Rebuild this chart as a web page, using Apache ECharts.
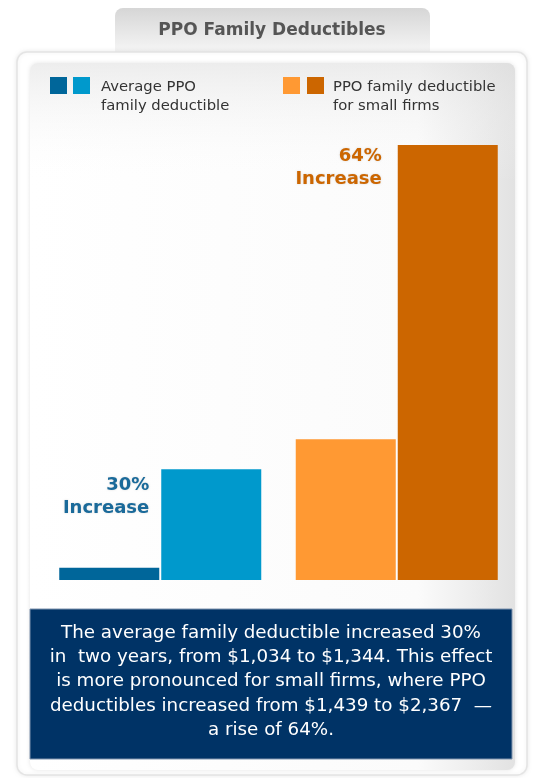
<!DOCTYPE html>
<html>
<head>
<meta charset="utf-8">
<script src="https://cdn.jsdelivr.net/npm/echarts@6/dist/echarts.min.js"></script>
<style>
html,body{margin:0;padding:0;background:#fff;}
#chart{width:534px;height:778px;}
</style>
</head>
<body>
<div id="chart"></div>
<script>
// Data
const groups = ['Average PPO family deductible', 'PPO family deductible for small firms'];
const legendNames = ['Average PPO\nfamily deductible', 'PPO family deductible\nfor small firms'];
const earlierValues = [1034, 1439];
const laterValues = [1344, 2367];
const increaseLabels = ['30%\nIncrease', '64%\nIncrease'];
const titleText = 'PPO Family Deductibles';
const noteText = 'The average family deductible increased 30%\nin  two years, from $1,034 to $1,344. This effect\nis more pronounced for small firms, where PPO\ndeductibles increased from $1,439 to $2,367  \u2014\na rise of 64%.';

const earlierColors = ['#00669a', '#ff9933'];
const laterColors = ['#0099cc', '#cc6600'];
const labelColors = ['#1a6a9a', '#cc6600'];
const labelOffsets = [[-12, 4], [-16, 0]];

const chart = echarts.init(document.getElementById('chart'), null, {renderer: 'canvas'});

const fam = '"DejaVu Sans", Verdana, sans-serif';

const option = {
  backgroundColor: '#ffffff',
  animation: false,
  graphic: [
    // title tab
    {type: 'rect', shape: {x: 115, y: 8, width: 315, height: 60, r: 8}, z: 0,
     style: {fill: new echarts.graphic.LinearGradient(0, 0, 0, 1, [{offset: 0, color: '#d6d6d6'}, {offset: 0.7, color: '#f4f4f4'}, {offset: 1, color: '#ffffff'}])}},
    {type: 'text', x: 272, y: 22, z: 2,
     style: {text: titleText, font: 'bold 17px ' + fam, fill: '#555555', align: 'center'}},
    // outer panel
    {type: 'rect', shape: {x: 17, y: 52, width: 510, height: 723, r: 10}, z: 1,
     style: {fill: '#ffffff', stroke: '#e4e4e4', lineWidth: 1.5, shadowBlur: 4, shadowColor: 'rgba(0,0,0,0.08)'}},
    // inner panel
    {type: 'rect', shape: {x: 30, y: 63, width: 485, height: 707, r: 8}, z: 1,
     style: {fill: new echarts.graphic.LinearGradient(0, 0, 1, 0, [{offset: 0, color: '#ffffff'}, {offset: 0.8, color: '#fbfbfb'}, {offset: 1, color: '#e2e2e2'}]),
             shadowBlur: 4, shadowColor: 'rgba(0,0,0,0.10)'}},
    {type: 'rect', shape: {x: 30, y: 63, width: 485, height: 120, r: [8, 8, 0, 0]}, z: 1,
     style: {fill: new echarts.graphic.LinearGradient(0, 0, 0, 1, [{offset: 0, color: 'rgba(220,220,220,0.5)'}, {offset: 1, color: 'rgba(255,255,255,0)'}])}},
    // legend squares
    {type: 'rect', shape: {x: 50, y: 77, width: 17, height: 17}, z: 3, style: {fill: earlierColors[0]}},
    {type: 'rect', shape: {x: 73, y: 77, width: 17, height: 17}, z: 3, style: {fill: laterColors[0]}},
    {type: 'rect', shape: {x: 283, y: 77, width: 17, height: 17}, z: 3, style: {fill: earlierColors[1]}},
    {type: 'rect', shape: {x: 307, y: 77, width: 17, height: 17}, z: 3, style: {fill: laterColors[1]}},
    {type: 'text', x: 101, y: 78, z: 3, style: {text: legendNames[0], font: '14.8px ' + fam, fill: '#333333', lineHeight: 19}},
    {type: 'text', x: 333, y: 78, z: 3, style: {text: legendNames[1], font: '14.8px ' + fam, fill: '#333333', lineHeight: 19}},
    // note box
    {type: 'rect', shape: {x: 30, y: 609, width: 482, height: 150}, z: 3, style: {fill: '#003366', stroke: '#7f93ad', lineWidth: 1}},
    {type: 'text', x: 271, y: 621, z: 4,
     style: {text: noteText, font: '18.3px ' + fam, fill: '#ffffff', lineHeight: 24.3, align: 'center'}}
  ],
  grid: {left: 42, right: 19, top: 145, bottom: 198, containLabel: false},
  xAxis: {type: 'category', data: groups, show: false},
  yAxis: {type: 'value', min: 995, max: 2367, show: false, splitLine: {show: false}},
  series: [
    {
      name: 'Earlier', type: 'bar', barWidth: 100, barGap: '2%', z: 5,
      data: earlierValues.map((v, i) => ({value: v, itemStyle: {color: earlierColors[i]}}))
    },
    {
      name: 'Later', type: 'bar', barWidth: 100, barGap: '2%', z: 5,
      data: laterValues.map((v, i) => ({
        value: v,
        itemStyle: {color: laterColors[i]},
        label: {
          show: true, formatter: increaseLabels[i], position: labelOffsets[i],
          align: 'right', verticalAlign: 'top',
          fontSize: 18, fontWeight: 'bold', fontFamily: fam, color: labelColors[i], lineHeight: 23,
          textShadowColor: 'rgba(0,0,0,0.15)', textShadowBlur: 2
        }
      }))
    }
  ]
};
chart.setOption(option);
</script>
</body>
</html>
